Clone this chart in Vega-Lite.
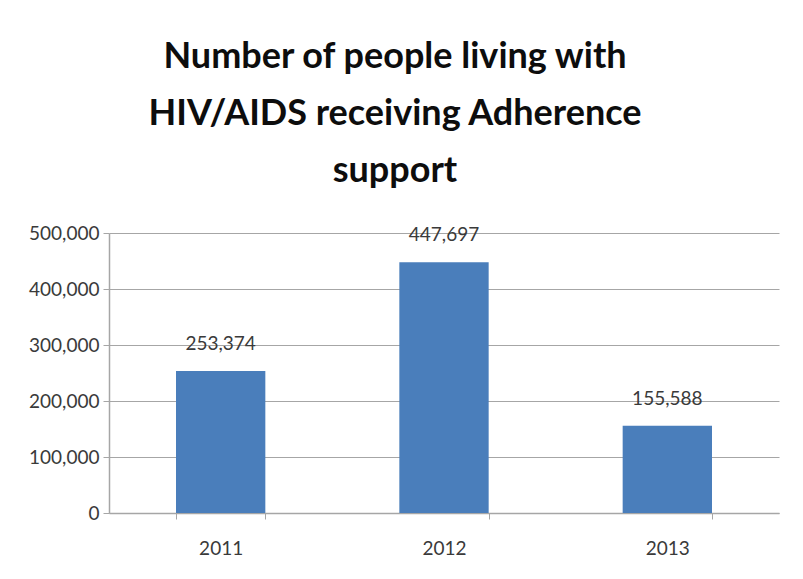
{
  "$schema": "https://vega.github.io/schema/vega-lite/v6.json",
  "width": 670,
  "height": 280,
  "autosize": "none",
  "padding": {"left": 109, "top": 233, "right": 24, "bottom": 66},
  "background": "white",
  "title": {
    "text": ["Number of people living with", "HIV/AIDS receiving Adherence", "support"],
    "font": "Lato",
    "fontSize": 36,
    "fontWeight": "bold",
    "color": "#0d0d0d",
    "lineHeight": 57,
    "anchor": "middle",
    "dx": -49,
    "offset": 34
  },
  "data": {
    "values": [
      {"year": "2011", "value": 253374},
      {"year": "2012", "value": 447697},
      {"year": "2013", "value": 155588}
    ]
  },
  "config": {
    "view": {"stroke": null},
    "axis": {"labelFont": "Lato", "labelFontSize": 19, "labelColor": "#3a3a3a", "domainColor": "#a6a6a6", "tickColor": "#a6a6a6", "gridColor": "#a6a6a6", "gridOpacity": 1, "domainWidth": 1.5}
  },
  "encoding": {
    "x": {
      "field": "year",
      "type": "nominal",
      "scale": {"paddingInner": 0.6, "paddingOuter": 0.3},
      "axis": {"title": null, "labelAngle": 0, "tickBand": "extent", "tickSize": 6, "labelPadding": 20, "grid": false}
    },
    "y": {
      "field": "value",
      "type": "quantitative",
      "scale": {"domain": [0, 500000]},
      "axis": {"title": null, "values": [0, 100000, 200000, 300000, 400000, 500000], "format": ",.0f", "tickSize": 6, "labelPadding": 4, "grid": true}
    }
  },
  "layer": [
    {"mark": {"type": "bar", "color": "#4a7ebb"}},
    {
      "mark": {"type": "text", "baseline": "bottom", "dy": -17, "font": "Lato", "fontSize": 19, "color": "#3a3a3a"},
      "encoding": {"text": {"field": "value", "type": "quantitative", "format": ",.0f"}}
    }
  ]
}
